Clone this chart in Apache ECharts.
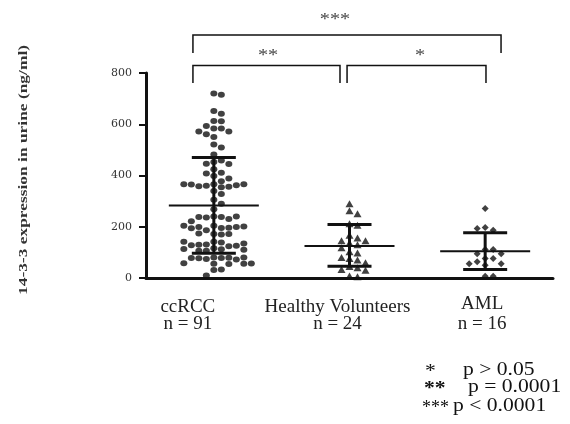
<!DOCTYPE html>
<html>
<head>
<meta charset="utf-8">
<script src="https://cdn.jsdelivr.net/npm/echarts@6/dist/echarts.min.js"></script>
<style>html,body{margin:0;padding:0;background:#fff}#c{width:570px;height:424px}</style>
</head>
<body>
<div id="c"></div>
<script>
// ---- data ----
const categories = ['ccRCC', 'Healthy Volunteers', 'AML'];
const groupSizes = ['n = 91', 'n = 24', 'n = 16'];
const ccRCC = [720, 715, 652, 641, 613, 612, 593, 583, 583, 572, 572, 561, 550, 521, 509, 482,
  459, 453, 446, 445, 424, 411, 408, 398, 388,
  378, 366, 360, 354, 356, 358, 362, 365, 366, 366,
  340, 328, 305, 290, 268,
  240, 238, 236, 230, 238, 240, 221,
  204, 195, 186, 196, 199, 199, 194, 201, 204,
  172, 170, 172, 174,
  141, 139, 131, 124, 130, 126, 128, 135, 141,
  116, 112, 106, 110, 106, 113,
  80, 78, 74, 79, 77, 72, 78, 80,
  58, 56, 55, 57, 56, 33, 31, 10];
const healthy = [290, 262, 251, 212, 206, 167, 156, 145, 145, 137, 130, 118,
  102, 98, 80, 76, 70, 60, 45, 40, 33, 30, 8, 5];
const aml = [271, 197, 186, 193, 111, 111, 95, 95, 76, 76, 63, 56, 50, 56, 7, 7];
const means = [283, 125, 104];
const sdUpper = [470, 209, 177];
const sdLower = [97, 46, 33];
const yMin = 0, yMax = 800, yInterval = 200;
const sigLabels = ['***', '**', '*'];
const legendStars = ['*', '**', '***'];
const legendText = ['p > 0.05', 'p = 0.0001', 'p < 0.0001'];

// ---- layout ----
const GRID = {left: 146, top: 73, width: 407, height: 205};
const pxPerCat = GRID.width / 3;
const pxPerY = GRID.height / (yMax - yMin);

// deterministic beeswarm placement of points around the group centre
function swarm(values, idx, stepPx, dotH) {
  const placed = [];
  return values.map(v => {
    const py = v * pxPerY;
    for (let k = 0; k < 80; k++) {
      const off = k === 0 ? 0 : (k % 2 ? Math.ceil(k / 2) : -k / 2);
      const px = off * stepPx;
      if (!placed.some(p => Math.abs(p[0] - px) < stepPx * 0.95 && Math.abs(p[1] - py) < dotH)) {
        placed.push([px, py]);
        return [idx + 0.5 + px / pxPerCat, v];
      }
    }
    return [idx + 0.5, v];
  });
}

// brackets: [x1, x2, yTop, yLeg, textX, textY] in axis units
const bracketSpec = [
  [0.346, 2.617, 948, 878, 1.393, 1010],
  [0.346, 1.430, 829, 761, 0.90, 870],
  [1.482, 2.506, 829, 761, 2.02, 870]
];

const serif = '"Liberation Serif", "Times New Roman", serif';
const labelShift = [52, 24, 6];

const chart = echarts.init(document.getElementById('c'), null, {renderer: 'canvas'});
const option = {
  animation: false,
  backgroundColor: '#fff',
  grid: GRID,
  xAxis: [{
    type: 'category',
    data: categories,
    boundaryGap: true,
    axisLine: {lineStyle: {color: '#111', width: 3}},
    axisTick: {alignWithLabel: true, length: 6, lineStyle: {color: '#111', width: 2}},
    axisLabel: {
      interval: 0,
      hideOverlap: false,
      margin: 16,
      formatter: function (val, i) {
        return '{t' + i + '|' + val + '}\n{n' + i + '|' + groupSizes[i] + '}';
      },
      rich: (function () {
        const r = {};
        for (let i = 0; i < 3; i++) {
          const top = i === 2 ? 0 : 6;
          r['t' + i] = {fontFamily: serif, fontSize: 19, color: '#222', lineHeight: 20, padding: [top, labelShift[i], 0, 0]};
          r['n' + i] = {fontFamily: serif, fontSize: 19, color: '#222', lineHeight: 20, padding: [0, labelShift[i], 0, 0]};
        }
        return r;
      })()
    },
    splitLine: {show: false}
  }, {
    type: 'value', min: 0, max: 3, show: false
  }],
  yAxis: {
    type: 'value', min: yMin, max: yMax, interval: yInterval,
    axisLine: {show: true, lineStyle: {color: '#111', width: 3}},
    axisTick: {show: true, length: 7, lineStyle: {color: '#111', width: 2}},
    axisLabel: {margin: 14, fontFamily: '"DejaVu Serif", serif', fontSize: 11, color: '#333'},
    splitLine: {show: false}
  },
  graphic: [
    {type: 'text', x: 24, y: 170, rotation: Math.PI / 2, scaleX: 1.45,
      style: {text: '14-3-3 expression in urine (ng/ml)', font: 'bold 12px ' + serif, fill: '#333', align: 'center', verticalAlign: 'middle'}},
    {type: 'text', x: 425, y: 372, scaleX: 1.2, style: {text: legendStars[0], font: '18px ' + serif, fill: '#111', verticalAlign: 'middle'}},
    {type: 'text', x: 463, y: 370, scaleX: 1.2, style: {text: legendText[0], font: '18px ' + serif, fill: '#111', verticalAlign: 'middle'}},
    {type: 'text', x: 424, y: 389, scaleX: 1.2, style: {text: legendStars[1], font: 'bold 18px ' + serif, fill: '#111', verticalAlign: 'middle'}},
    {type: 'text', x: 468, y: 387, scaleX: 1.2, style: {text: legendText[1], font: '18px ' + serif, fill: '#111', verticalAlign: 'middle'}},
    {type: 'text', x: 422, y: 408, scaleX: 1.0, style: {text: legendStars[2], font: '18px ' + serif, fill: '#111', verticalAlign: 'middle'}},
    {type: 'text', x: 453, y: 406, scaleX: 1.2, style: {text: legendText[2], font: '18px ' + serif, fill: '#111', verticalAlign: 'middle'}}
  ],
  series: [
    {name: categories[0], type: 'scatter', xAxisIndex: 1, symbol: 'circle', symbolSize: [7, 6],
      itemStyle: {color: '#111'}, data: swarm(ccRCC, 0, 7.5, 6), z: 2},
    {name: categories[1], type: 'scatter', xAxisIndex: 1, symbol: 'triangle', symbolSize: [8, 7],
      itemStyle: {color: '#111'}, data: swarm(healthy, 1, 8, 6.5), z: 2},
    {name: categories[2], type: 'scatter', xAxisIndex: 1, symbol: 'diamond', symbolSize: [7, 7],
      itemStyle: {color: '#111'}, data: swarm(aml, 2, 8, 6.5), z: 2},
    {
      type: 'custom', xAxisIndex: 1, z: 5, clip: false,
      encode: {x: 0, y: [1, 2, 3]},
      data: categories.map((c, i) => [i + 0.5, means[i], sdLower[i], sdUpper[i]]),
      renderItem: function (params, api) {
        const x = api.value(0);
        const m = api.coord([x, api.value(1)]);
        const lo = api.coord([x, api.value(2)]);
        const hi = api.coord([x, api.value(3)]);
        const st = {stroke: '#111', lineWidth: 3};
        return {type: 'group', children: [
          {type: 'line', shape: {x1: m[0], y1: hi[1], x2: m[0], y2: lo[1]}, style: st},
          {type: 'line', shape: {x1: m[0] - 22, y1: hi[1], x2: m[0] + 22, y2: hi[1]}, style: st},
          {type: 'line', shape: {x1: m[0] - 22, y1: lo[1], x2: m[0] + 22, y2: lo[1]}, style: st},
          {type: 'line', shape: {x1: m[0] - 45, y1: m[1], x2: m[0] + 45, y2: m[1]}, style: {stroke: '#111', lineWidth: 2}}
        ]};
      }
    },
    {
      type: 'custom', xAxisIndex: 1, z: 5, clip: false, silent: true,
      encode: {x: [0, 1], y: [2, 3]},
      data: bracketSpec,
      renderItem: function (params, api) {
        const a = api.coord([api.value(0), api.value(2)]);
        const b = api.coord([api.value(1), api.value(3)]);
        const t = api.coord([api.value(4), api.value(5)]);
        const st = {stroke: '#111', fill: null, lineWidth: 1.5};
        return {type: 'group', children: [
          {type: 'polyline', shape: {points: [[a[0], b[1]], [a[0], a[1]], [b[0], a[1]], [b[0], b[1]]]}, style: st},
          {type: 'text', x: t[0], y: t[1], scaleX: 1.2,
            style: {text: sigLabels[params.dataIndex], font: '17px ' + serif, fill: '#444', align: 'center', verticalAlign: 'middle'}}
        ]};
      }
    }
  ]
};
chart.setOption(option);
</script>
</body>
</html>
